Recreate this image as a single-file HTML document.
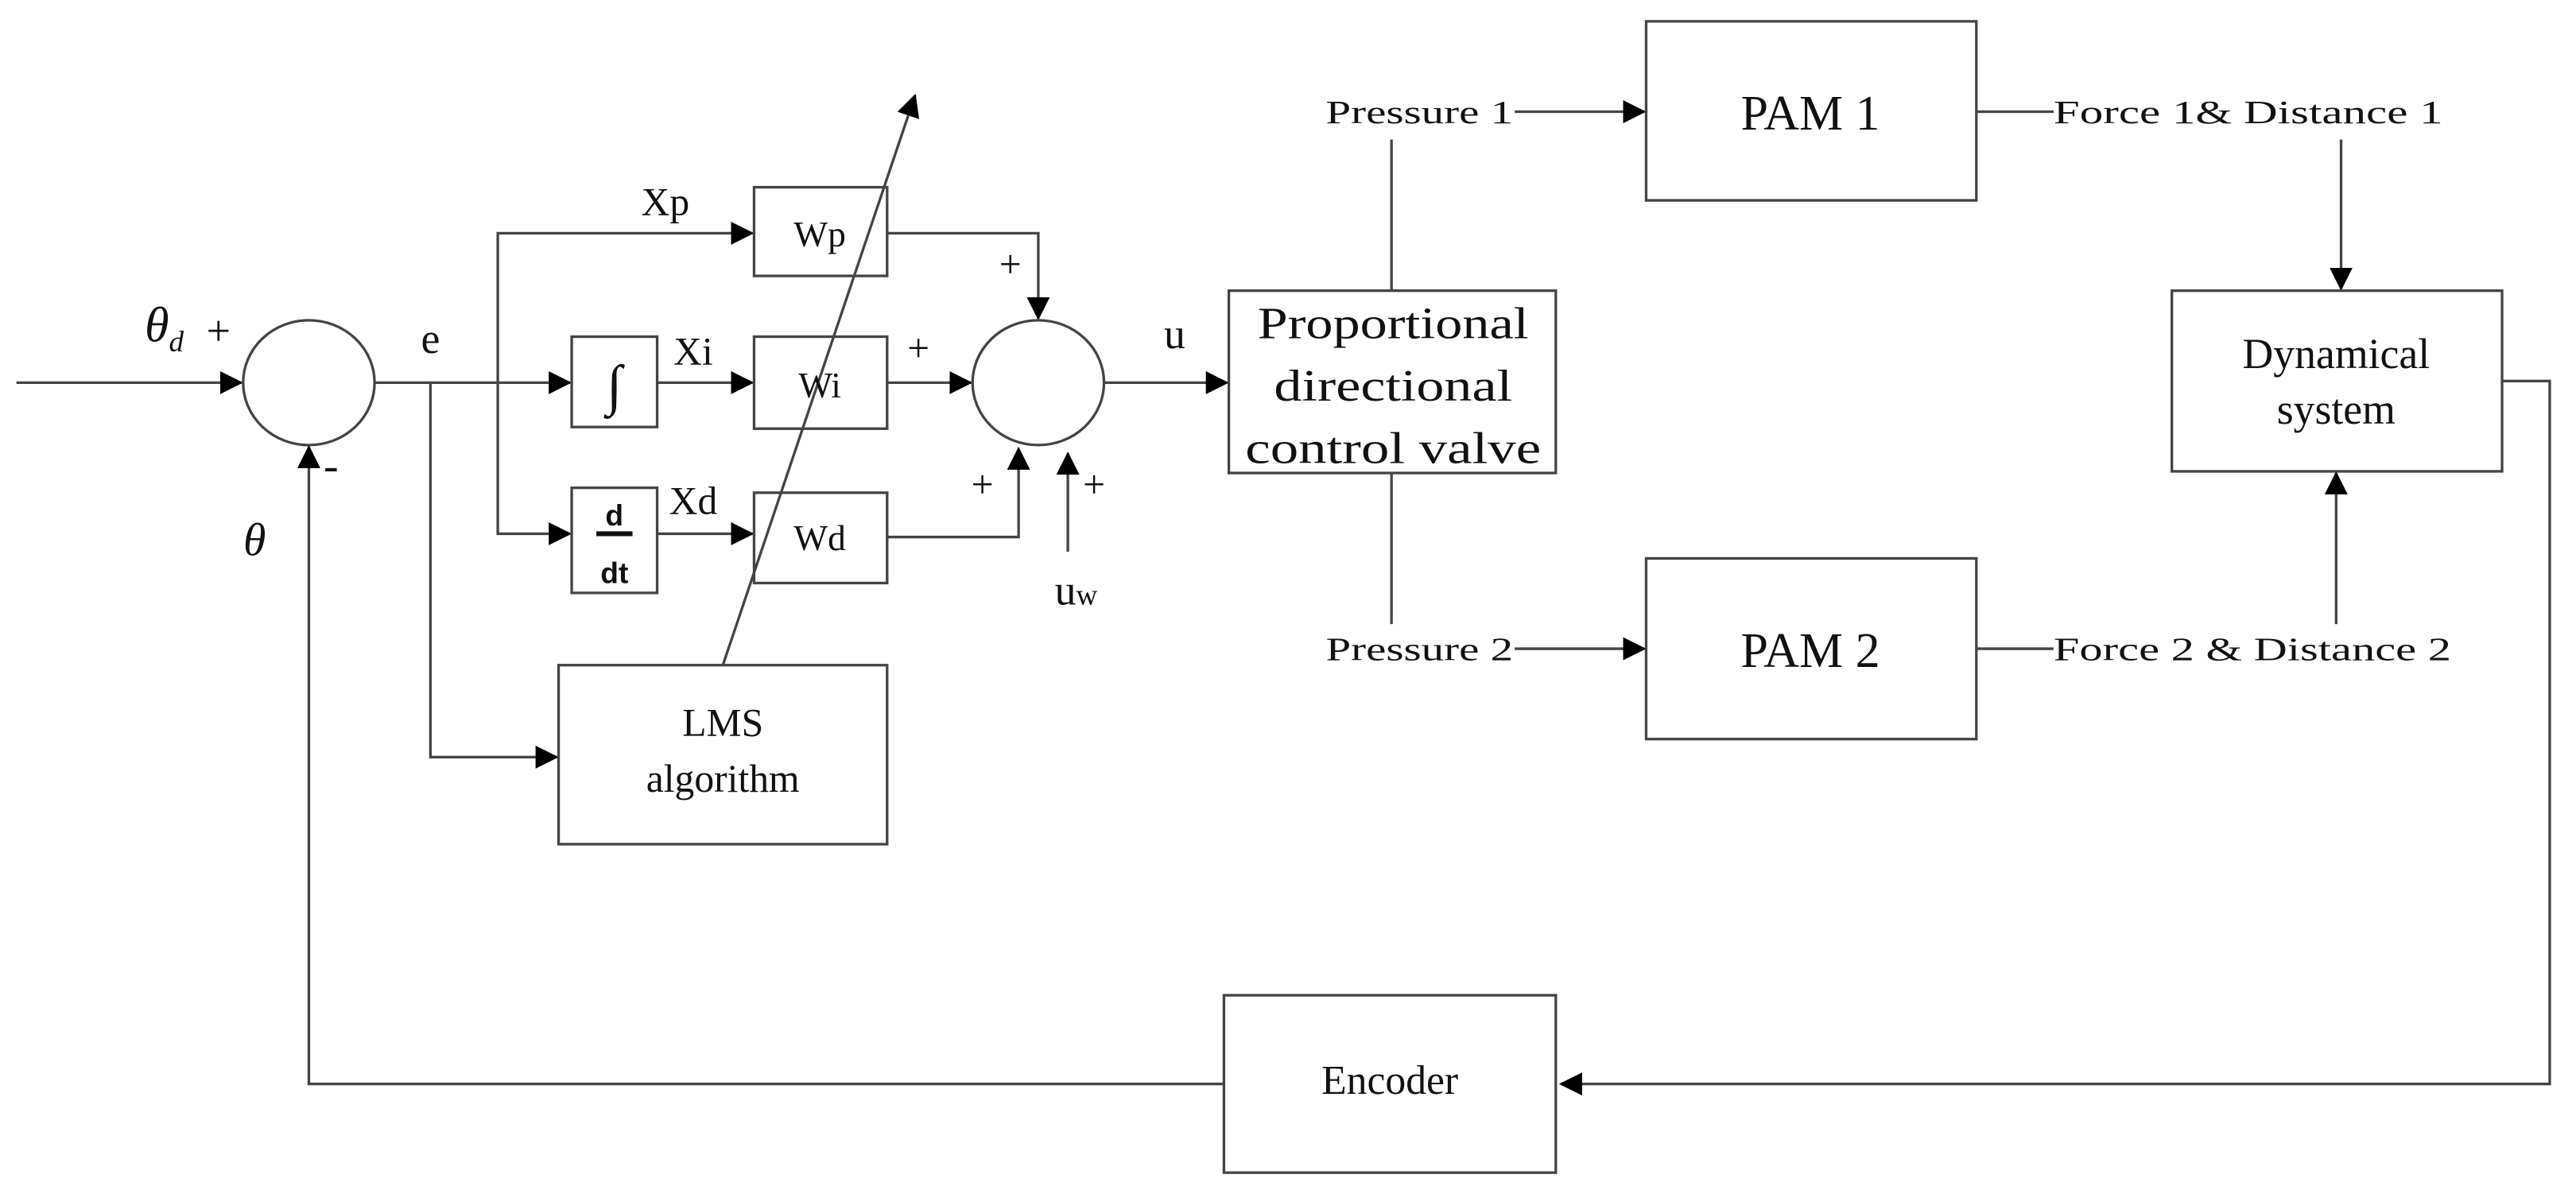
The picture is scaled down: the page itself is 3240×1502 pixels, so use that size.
<!DOCTYPE html>
<html><head><style>html,body{margin:0;padding:0;background:#fff}svg{display:block}</style></head>
<body>
<svg width="3240" height="1502" viewBox="0 0 1568 727" preserveAspectRatio="none" xmlns="http://www.w3.org/2000/svg" font-family="Liberation Serif, serif" fill="#111">
<defs>
<marker id="b" markerWidth="14" markerHeight="14" refX="13" refY="7" orient="auto" markerUnits="userSpaceOnUse" viewBox="0 0 14 14"><path d="M0,0 L14,7 L0,14 z" fill="#000"/></marker>
</defs>
<g stroke="#444" stroke-width="1.6" fill="none">
<line x1="10" y1="233" x2="147" y2="233" marker-end="url(#b)"/>
<ellipse cx="188" cy="233" rx="40" ry="38"/>
<polyline points="1523,232 1552,232 1552,660 950,660" marker-end="url(#b)"/>
<polyline points="745,660 188,660 188,272" marker-end="url(#b)"/>
<line x1="228" y1="233" x2="347" y2="233" marker-end="url(#b)"/>
<polyline points="262,233 262,461 339,461" marker-end="url(#b)"/>
<polyline points="303,233 303,142 458,142" marker-end="url(#b)"/>
<polyline points="303,233 303,325 347,325" marker-end="url(#b)"/>
<line x1="400" y1="233" x2="458" y2="233" marker-end="url(#b)"/>
<line x1="400" y1="325" x2="458" y2="325" marker-end="url(#b)"/>
<rect x="348" y="205" width="52" height="55"/>
<rect x="348" y="297" width="52" height="64"/>
<rect x="459" y="114" width="81" height="54"/>
<rect x="459" y="205" width="81" height="56"/>
<rect x="459" y="300" width="81" height="55"/>
<rect x="340" y="405" width="200" height="109"/>
<polyline points="540,142 632,142 632,194" marker-end="url(#b)"/>
<line x1="540" y1="233" x2="591" y2="233" marker-end="url(#b)"/>
<polyline points="540,327 620,327 620,273" marker-end="url(#b)"/>
<line x1="650" y1="336" x2="650" y2="276" marker-end="url(#b)"/>
<ellipse cx="632" cy="233" rx="40" ry="38"/>
<line x1="672" y1="233" x2="747" y2="233" marker-end="url(#b)"/>
<line x1="440" y1="405" x2="557" y2="58" marker-end="url(#b)"/>
<rect x="748" y="177" width="199" height="111"/>
<line x1="847" y1="177" x2="847" y2="85"/>
<line x1="847" y1="288" x2="847" y2="380"/>
<line x1="922" y1="68" x2="1001" y2="68" marker-end="url(#b)"/>
<line x1="922" y1="395" x2="1001" y2="395" marker-end="url(#b)"/>
<rect x="1002" y="13" width="201" height="109"/>
<rect x="1002" y="340" width="201" height="110"/>
<line x1="1203" y1="68" x2="1250" y2="68"/>
<line x1="1203" y1="395" x2="1250" y2="395"/>
<line x1="1425" y1="85" x2="1425" y2="176" marker-end="url(#b)"/>
<line x1="1422" y1="380" x2="1422" y2="288" marker-end="url(#b)"/>
<rect x="1322" y="177" width="201" height="110"/>
<rect x="745" y="606" width="202" height="108"/>
<line x1="385" y1="325" x2="363" y2="325" stroke="#111" stroke-width="3"/>
<line x1="198" y1="286" x2="205" y2="286" stroke="#111" stroke-width="2"/>
</g>
<g font-size="26" text-anchor="middle">
<text x="100" y="208" font-style="italic" font-size="30">θ<tspan font-size="18" dy="6">d</tspan></text>
<text x="133" y="210">+</text>
<text x="155" y="338" font-style="italic" font-size="28">θ</text>
<text x="262" y="215">e</text>
<text x="405" y="131" font-size="24">Xp</text>
<text x="422" y="222" font-size="24">Xi</text>
<text x="422" y="313" font-size="24">Xd</text>
<text x="374" y="246" font-size="34" font-style="italic">∫</text>
<text x="374" y="320" font-size="18" font-weight="bold" font-family="Liberation Sans, sans-serif">d</text>
<text x="374" y="355" font-size="18" font-weight="bold" font-family="Liberation Sans, sans-serif">dt</text>
<text x="499" y="150" font-size="22">Wp</text>
<text x="499" y="242" font-size="22">Wi</text>
<text x="499" y="335" font-size="22">Wd</text>
<text x="615" y="169" font-size="24">+</text>
<text x="559" y="220" font-size="24">+</text>
<text x="598" y="303" font-size="24">+</text>
<text x="666" y="303" font-size="24">+</text>
<text x="655" y="368" font-size="26">u<tspan font-size="18">w</tspan></text>
<text x="715" y="212">u</text>
<text x="440" y="448" font-size="24">LMS</text>
<text x="440" y="482" font-size="24">algorithm</text>
<text x="848" y="206" font-size="27" textLength="165" lengthAdjust="spacingAndGlyphs">Proportional</text>
<text x="848" y="244" font-size="27" textLength="145" lengthAdjust="spacingAndGlyphs">directional</text>
<text x="848" y="282" font-size="27" textLength="180" lengthAdjust="spacingAndGlyphs">control valve</text>
<text x="1422" y="224" font-size="26">Dynamical</text>
<text x="1422" y="258" font-size="26">system</text>
<text x="1102" y="79" font-size="30">PAM 1</text>
<text x="1102" y="406" font-size="30">PAM 2</text>
<text x="846" y="666" font-size="25">Encoder</text>
</g>
<g font-size="20">
<text x="807" y="75" textLength="114" lengthAdjust="spacingAndGlyphs">Pressure 1</text>
<text x="807" y="402" textLength="114" lengthAdjust="spacingAndGlyphs">Pressure 2</text>
<text x="1250" y="75" textLength="237" lengthAdjust="spacingAndGlyphs">Force 1&amp; Distance 1</text>
<text x="1250" y="402" textLength="242" lengthAdjust="spacingAndGlyphs">Force 2 &amp; Distance 2</text>
</g>
</svg>
</body></html>
